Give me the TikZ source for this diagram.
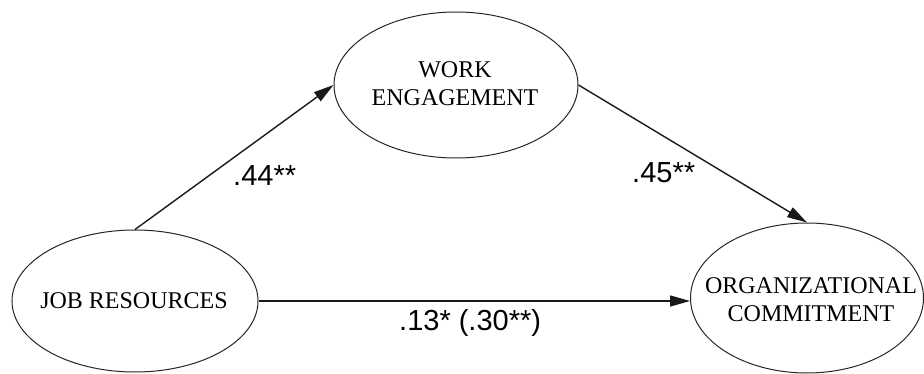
\documentclass[tikz,border=0pt]{standalone}
\usepackage{fontspec}
\setmainfont{Liberation Serif}
\newfontfamily\labelfont{Liberation Sans}
\usetikzlibrary{shapes.geometric,arrows.meta}
\begin{document}
\begin{tikzpicture}[x=1pt,y=-1pt,
  latent/.style={ellipse, draw=black!85, line width=1pt, inner sep=0pt},
  latenttext/.style={inner sep=0pt, align=center, font=\fontsize{24}{28}\selectfont},
  pathline/.style={draw=black!90, line width=1.4pt, -{Triangle[length=20pt,width=11pt]}},
  coef/.style={font=\labelfont\fontsize{29}{34}\selectfont, inner sep=0pt, anchor=base west}]
\useasboundingbox (0,0) rectangle (924,374);
\node[latent, minimum width=246pt, minimum height=142pt] (JR) at (135,301) {};
\node[latent, minimum width=244pt, minimum height=146pt] (WE) at (456,85) {};
\node[latent, minimum width=233pt, minimum height=150pt] (OC) at (807,298) {};
\node[latenttext] (JRt) at (134,301) {JOB RESOURCES};
\node[latenttext] (WEt) at (455,84) {WORK\\ENGAGEMENT};
\node[latenttext] (OCt) at (811,300) {ORGANIZATIONAL\\COMMITMENT};
\draw[pathline] (JR.north) -- (WE.west);
\draw[pathline] (WE.east) -- (OC.north);
\draw[pathline] (JR.east) -- (JR.east -| OC.west);
\node[coef] (l1) at (233,186) {.44**};
\node[coef] (l2) at (632,183) {.45**};
\node[coef] (l3) at (399,330) {.13* (.30**)};
\end{tikzpicture}
\end{document}
